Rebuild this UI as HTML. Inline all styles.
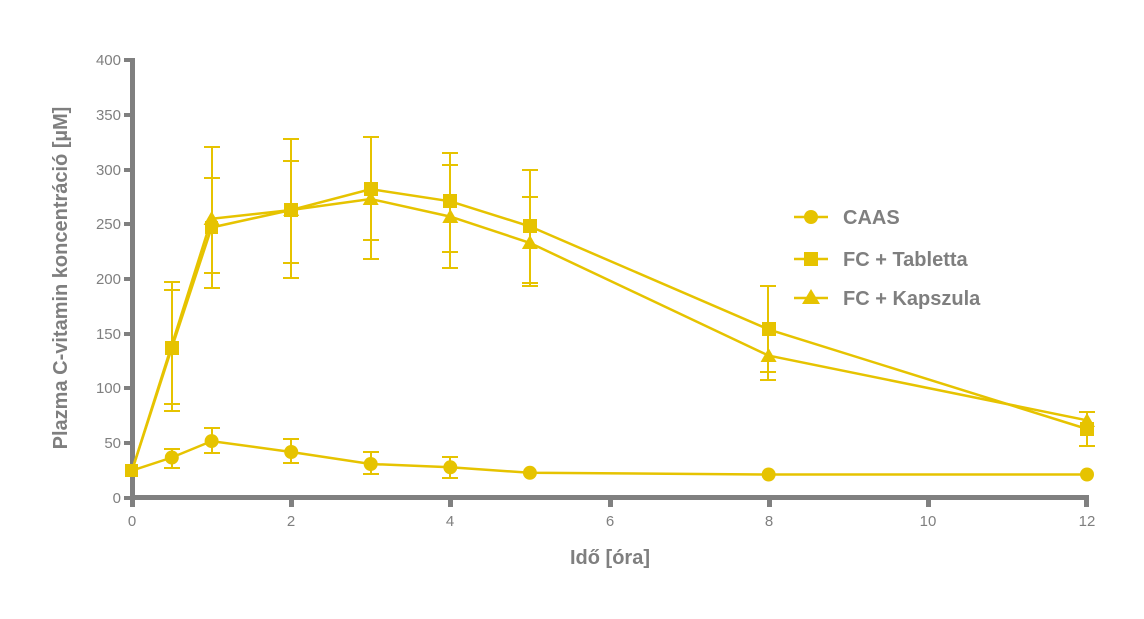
<!DOCTYPE html>
<html><head><meta charset="utf-8"><style>
html,body{margin:0;padding:0;background:#fff;}
svg text{font-family:"Liberation Sans",sans-serif;fill:#7f7f7f;}
</style></head><body>
<svg width="1144" height="614" viewBox="0 0 1144 614" xmlns="http://www.w3.org/2000/svg">
<!-- axes -->
<g fill="#808080">
<rect x="130" y="58" width="5" height="442"/>
<rect x="130" y="495" width="959" height="5"/>
<!-- y ticks -->
<rect x="124" y="58" width="8" height="4"/>
<rect x="124" y="113" width="8" height="4"/>
<rect x="124" y="168" width="8" height="4"/>
<rect x="124" y="222" width="8" height="4"/>
<rect x="124" y="277" width="8" height="4"/>
<rect x="124" y="332" width="8" height="4"/>
<rect x="124" y="386" width="8" height="4"/>
<rect x="124" y="441" width="8" height="4"/>
<rect x="124" y="496" width="8" height="4"/>
<!-- x ticks -->
<rect x="130" y="498" width="5" height="9"/>
<rect x="289" y="498" width="5" height="9"/>
<rect x="448" y="498" width="5" height="9"/>
<rect x="608" y="498" width="5" height="9"/>
<rect x="767" y="498" width="5" height="9"/>
<rect x="926" y="498" width="5" height="9"/>
<rect x="1084" y="498" width="5" height="9"/>
</g>
<g font-size="15" text-anchor="end">
<text x="121" y="65">400</text><text x="121" y="120">350</text><text x="121" y="175">300</text>
<text x="121" y="229">250</text><text x="121" y="284">200</text><text x="121" y="339">150</text>
<text x="121" y="393">100</text><text x="121" y="448">50</text><text x="121" y="503">0</text>
</g>
<g font-size="15" text-anchor="middle">
<text x="132" y="526">0</text><text x="291" y="526">2</text><text x="450" y="526">4</text>
<text x="610" y="526">6</text><text x="769" y="526">8</text><text x="928" y="526">10</text><text x="1087" y="526">12</text>
</g>
<text x="610" y="564" font-size="20" font-weight="bold" text-anchor="middle">Idő [óra]</text>
<text transform="translate(67,278) rotate(-90)" font-size="20" font-weight="bold" text-anchor="middle">Plazma C-vitamin koncentráció [µM]</text>

<g stroke="#e6c300" fill="none" stroke-width="2">
<!-- error bars -->
<path d="M172 282V411M164 282H180M164 290H180M164 404H180M164 411H180"/>
<path d="M212 147V288M204 147H220M204 178H220M204 273H220M204 288H220"/>
<path d="M291 139V278M283 139H299M283 161H299M283 263H299M283 278H299"/>
<path d="M371 137V259M363 137H379M363 240H379M363 259H379"/>
<path d="M450 153V268M442 153H458M442 165H458M442 252H458M442 268H458"/>
<path d="M530 170V286M522 170H538M522 197H538M522 283H538M522 286H538"/>
<path d="M768 286V380M760 286H776M760 372H776M760 380H776"/>
<path d="M1087 412V446M1079 412H1095M1079 446H1095"/>
<!-- CAAS errors -->
<path d="M172 449V468M164 449H180M164 468H180"/>
<path d="M212 428V453M204 428H220M204 453H220"/>
<path d="M291 439V463M283 439H299M283 463H299"/>
<path d="M371 452V474M363 452H379M363 474H379"/>
<path d="M450 457V478M442 457H458M442 478H458"/>
</g>
<g stroke="#e6c300" fill="none" stroke-width="2.5">
<polyline points="132,470.6 171.8,348 211.6,227.5 291.2,210 370.7,189.2 450.3,201.3 529.9,226.4 768.6,329.4 1087,429"/>
<polyline points="132,470.6 171.8,345 211.6,218.8 291.2,210 370.7,199 450.3,216.6 529.9,242.9 768.6,355.6 1087,420.3"/>
<polyline points="132,470.6 171.8,457.5 211.6,441.1 291.2,452 370.7,464 450.3,467.3 529.9,472.8 768.6,474.5 1087,474.5"/>
</g>
<g fill="#e6c300">
<!-- CAAS circles -->
<circle cx="171.8" cy="457.5" r="7"/><circle cx="211.6" cy="441.1" r="7"/><circle cx="291.2" cy="452" r="7"/>
<circle cx="370.7" cy="464" r="7"/><circle cx="450.3" cy="467.3" r="7"/><circle cx="529.9" cy="472.8" r="7"/>
<circle cx="768.6" cy="474.5" r="7"/><circle cx="1087" cy="474.5" r="7"/>
<!-- triangles -->
<path d="M211.6 211l8 14h-16z"/><path d="M291.2 202l8 14h-16z"/><path d="M370.7 191l8 14h-16z"/>
<path d="M450.3 209l8 14h-16z"/><path d="M529.9 235l8 14h-16z"/><path d="M768.6 348l8 14h-16z"/>
<path d="M1087 413l8 14h-16z"/>
<!-- squares -->
<rect x="125" y="464" width="13" height="13"/>
<rect x="165" y="341" width="14" height="14"/><rect x="205" y="221" width="13" height="13"/>
<rect x="284" y="203" width="14" height="14"/><rect x="364" y="182" width="14" height="14"/>
<rect x="443" y="194" width="14" height="14"/><rect x="523" y="219" width="14" height="14"/>
<rect x="762" y="322" width="14" height="14"/><rect x="1080" y="422" width="14" height="14"/>
</g>
<!-- legend -->
<g stroke="#e6c300" stroke-width="2.5"><path d="M794 217H828M794 259H828M794 298H828"/></g>
<g fill="#e6c300">
<circle cx="811" cy="217" r="7"/>
<rect x="804" y="252" width="14" height="14"/>
<path d="M811 289l9 15h-18z"/>
</g>
<g font-size="20" font-weight="bold">
<text x="843" y="224">CAAS</text>
<text x="843" y="266">FC + Tabletta</text>
<text x="843" y="305">FC + Kapszula</text>
</g>
</svg>
</body></html>
